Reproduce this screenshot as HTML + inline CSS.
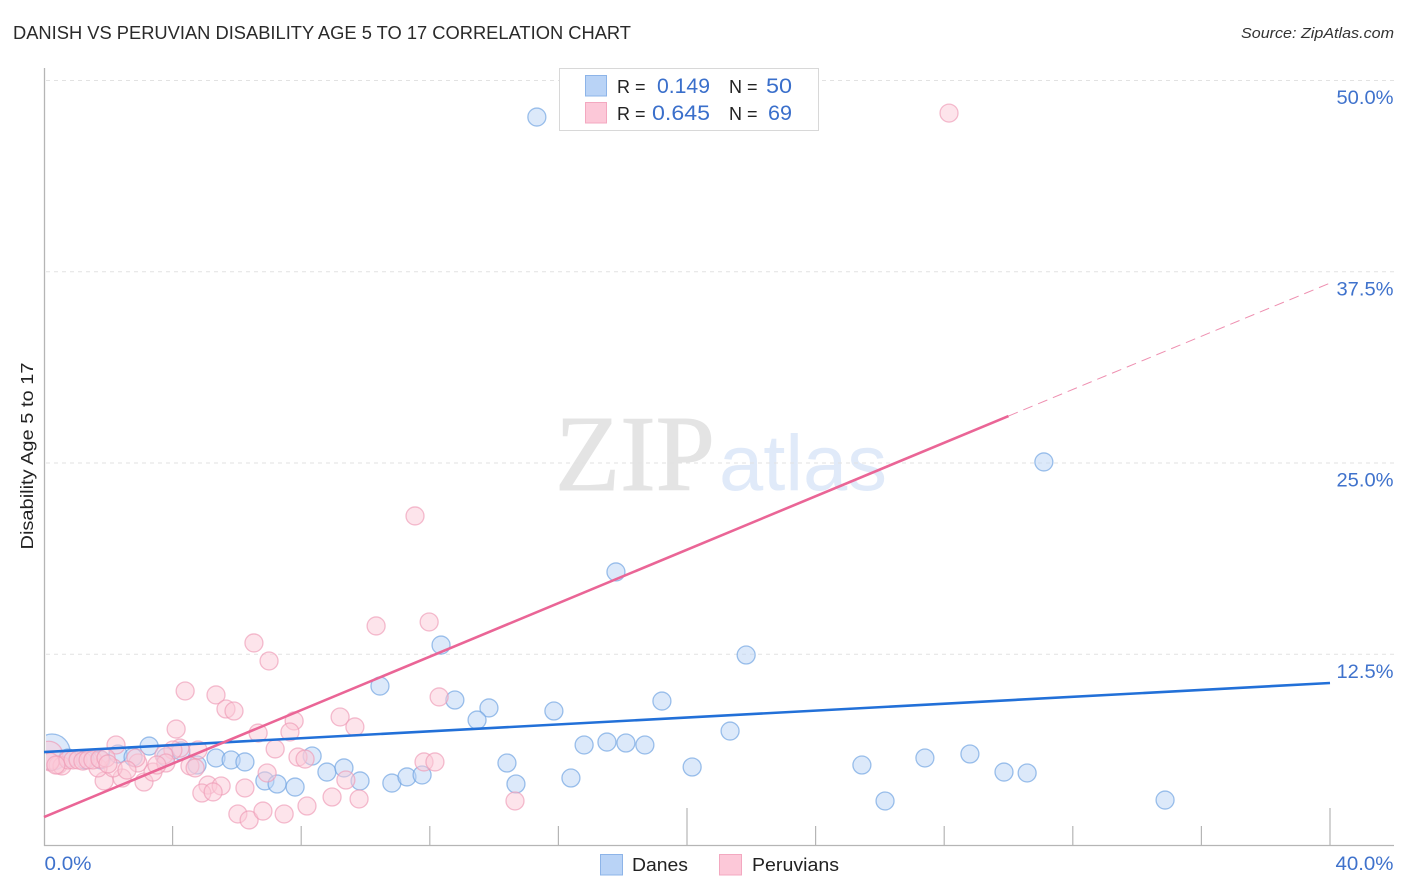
<!DOCTYPE html>
<html lang="en">
<head>
<meta charset="utf-8">
<title>Danish vs Peruvian Disability Age 5 to 17 Correlation Chart</title>
<style>
html,body{margin:0;padding:0;background:#fff;width:1406px;height:892px;overflow:hidden}
svg{display:block}
text{font-family:"Liberation Sans",sans-serif}
</style>
</head>
<body>
<svg id="chart" width="1406" height="892" viewBox="0 0 1406 892">
  <defs>
    <clipPath id="plot-clip"><rect x="46" y="60" width="1360" height="786"/></clipPath>
  </defs>
  <text x="13" y="39" font-size="18.5" fill="#2a2a2a" textLength="618" lengthAdjust="spacingAndGlyphs">DANISH VS PERUVIAN DISABILITY AGE 5 TO 17 CORRELATION CHART</text>
  <text x="1394" y="38" font-size="15" font-style="italic" fill="#333" text-anchor="end" textLength="153" lengthAdjust="spacingAndGlyphs">Source: ZipAtlas.com</text>
  <text x="555" y="490" font-size="108" fill="#e4e4e4" stroke="#e4e4e4" stroke-width="1" style="font-family:'Liberation Serif',serif" textLength="160" lengthAdjust="spacingAndGlyphs">ZIP</text>
  <text x="719" y="490" font-size="79" fill="#e0eaf9" textLength="168" lengthAdjust="spacingAndGlyphs">atlas</text>
  <g id="grid"></g>
  <g id="axes"></g>
  <g id="points-danes" clip-path="url(#plot-clip)"></g>
  <g id="points-peruvians" clip-path="url(#plot-clip)"></g>
  <g id="trends"></g>
  <text transform="translate(33,456) rotate(-90)" font-size="17.5" fill="#222" text-anchor="middle" textLength="187" lengthAdjust="spacingAndGlyphs">Disability Age 5 to 17</text>

  <g>
    <rect x="559.5" y="68.5" width="259" height="62" fill="#fff" stroke="#d8d8d8"/>
    <rect x="585.5" y="75.5" width="21" height="20.5" fill="#b9d3f6" stroke="#8db4e8"/>
    <rect x="585.5" y="102.5" width="21" height="20.5" fill="#fcc8d8" stroke="#f3a8c0"/>
    <text x="617" y="93" font-size="18" fill="#222">R =</text>
    <text x="710" y="93" font-size="21" fill="#3a6fcb" text-anchor="end" textLength="53" lengthAdjust="spacingAndGlyphs">0.149</text>
    <text x="729" y="93" font-size="18" fill="#222">N =</text>
    <text x="792" y="93" font-size="21" fill="#3a6fcb" text-anchor="end" textLength="26" lengthAdjust="spacingAndGlyphs">50</text>
    <text x="617" y="120" font-size="18" fill="#222">R =</text>
    <text x="710" y="120" font-size="21" fill="#3a6fcb" text-anchor="end" textLength="58" lengthAdjust="spacingAndGlyphs">0.645</text>
    <text x="729" y="120" font-size="18" fill="#222">N =</text>
    <text x="792" y="120" font-size="21" fill="#3a6fcb" text-anchor="end" textLength="24" lengthAdjust="spacingAndGlyphs">69</text>
  </g>

  <g>
    <g>
      <rect x="600.5" y="854.5" width="22" height="20.5" fill="#b9d3f6" stroke="#8db4e8"/>
      <text x="632" y="871" font-size="18.5" fill="#222" textLength="56" lengthAdjust="spacingAndGlyphs">Danes</text>
    </g>
    <g>
      <rect x="719.5" y="854.5" width="22" height="20.5" fill="#fcc8d8" stroke="#f3a8c0"/>
      <text x="752" y="871" font-size="18.5" fill="#222" textLength="87" lengthAdjust="spacingAndGlyphs">Peruvians</text>
    </g>
  </g>
</svg>
<script>
const yTickValues = [12.5, 25, 37.5, 50];
const yTickLabels = ["12.5%", "25.0%", "37.5%", "50.0%"];
const xTickValues = [0, 4, 8, 12, 16, 20, 24, 28, 32, 36, 40];
const xMajorTicks = [20, 40];
const xEndValues = [0, 40];
const xEndLabels = ["0.0%", "40.0%"];

const danesX = [15.33,31.10,17.79,12.35,21.84,10.45,12.78,19.22,13.84,13.47,15.86,21.34,16.80,17.51,18.10,18.69,3.27,2.30,2.77,1.77,3.79,4.26,4.76,5.35,5.82,6.25,8.34,8.80,9.33,9.83,10.82,11.29,11.76,14.40,14.68,16.39,20.16,25.44,27.40,28.80,29.86,30.58,26.16,34.87,6.87,7.25,7.81,0.75,1.28];
const danesY = [47.61,25.07,17.88,13.10,12.45,10.42,9.51,9.44,8.99,8.20,8.79,7.48,6.57,6.76,6.70,6.57,6.50,5.98,5.78,5.59,5.78,6.18,5.26,5.72,5.59,5.46,5.85,4.80,5.07,4.22,4.08,4.48,4.61,5.39,4.02,4.41,5.13,5.26,5.72,5.98,4.80,4.74,2.91,2.97,4.22,4.02,3.82,5.72,5.59];
const danesClusterX = [0.25];
const danesClusterY = [6.11];

const peruviansX = [28.15,11.54,11.98,10.33,6.53,7.00,4.39,5.35,5.66,5.91,4.11,6.66,7.78,7.65,9.21,9.67,2.24,7.19,7.90,8.12,11.82,12.16,12.29,6.94,9.39,5.10,5.51,4.91,5.26,6.25,8.96,9.80,8.18,6.03,6.38,6.81,7.47,14.65,1.87,2.43,3.11,3.39,4.23,4.01,3.73,3.79,3.51,4.79,4.54,4.70,2.92,2.15,1.68,2.86,2.58,0.44,0.56,0.19,0.75,0.90,1.06,1.21,1.37,1.52,1.74,1.93,0.37,1.99];
const peruviansY = [47.87,21.54,14.61,14.35,13.24,12.06,10.10,9.84,8.92,8.79,7.61,7.35,8.14,7.42,8.40,7.75,6.57,6.31,5.78,5.65,5.46,5.46,9.71,4.74,4.28,3.95,3.89,3.43,3.50,3.76,3.17,3.04,2.58,2.06,1.67,2.25,2.06,2.91,4.22,4.41,4.15,4.80,6.37,6.24,5.92,5.39,5.26,6.24,5.20,5.07,5.39,5.07,5.07,5.72,4.93,5.26,5.20,5.46,5.59,5.59,5.59,5.52,5.59,5.59,5.65,5.72,5.26,5.33];
const peruviansClusterX = [0.15];
const peruviansClusterY = [5.9];

const danesTrendX = [0, 40];
const danesTrendY = [6.11, 10.62];
const peruviansTrendX = [0, 30];
const peruviansTrendY = [1.86, 28.07];
const peruviansForecastX = [30, 40];
const peruviansForecastY = [28.07, 36.76];

const NS = "http://www.w3.org/2000/svg";
const xScale = v => 44 + v * 32.15;
const yScale = v => 845.5 - v * 15.3;
function mk(parent, tag, attrs, text) {
  const el = document.createElementNS(NS, tag);
  for (const k in attrs) el.setAttribute(k, attrs[k]);
  if (text !== undefined) el.textContent = text;
  parent.appendChild(el);
  return el;
}

const grid = document.getElementById("grid");
const axes = document.getElementById("axes");
yTickValues.forEach((v, i) => {
  const line = mk(grid, "line", {x1: 46, x2: 1394, y1: yScale(v), y2: yScale(v), stroke: "#e2e2e2", "stroke-width": 1, "stroke-dasharray": "4 4"});
  
  
  const label = mk(axes, "text", {x: 1393.5, y: yScale(v) + 23.5, "font-size": 19, fill: "#3f72cc", "text-anchor": "end", textLength: 57, lengthAdjust: "spacingAndGlyphs"}, yTickLabels[i]);
  
  
});

const yAxis = mk(axes, "line", {x1: 44.5, x2: 44.5, y1: 68, y2: 846, stroke: "#b5b5b5", "stroke-width": 1.3});


const xAxis = mk(axes, "line", {x1: 44, x2: 1394, y1: 845.5, y2: 845.5, stroke: "#b5b5b5", "stroke-width": 1.3});


xTickValues.forEach(v => {
  if (v === 0) return;
  const top = xMajorTicks.includes(v) ? 808 : 826;
  const tick = mk(axes, "line", {x1: xScale(v), x2: xScale(v), y1: top, y2: 845, stroke: "#b5b5b5", "stroke-width": 1.2});
  
  
});
xEndValues.forEach((v, i) => {
  const label = mk(axes, "text", {x: i === 0 ? 44.5 : 1393.5, y: 870, "font-size": 19.5, fill: "#3f72cc", "text-anchor": i === 0 ? "start" : "end", textLength: i === 0 ? 47 : 58, lengthAdjust: "spacingAndGlyphs"}, xEndLabels[i]);
  
  
});

function drawPoints(group, xs, ys, radius, fill, stroke, name) {
  xs.forEach((x, i) => {
    const c = mk(group, "circle", {cx: xScale(x), cy: yScale(ys[i]), r: radius, fill: fill, "fill-opacity": 0.5, stroke: stroke, "stroke-opacity": 0.65, "stroke-width": 1.3});
    
    
  });
}
const gD = document.getElementById("points-danes");
const gP = document.getElementById("points-peruvians");
drawPoints(gD, danesClusterX, danesClusterY, 18, "#b9d3f6", "#6a9fe0", "dane-point-cluster");
drawPoints(gD, danesX, danesY, 9, "#b9d3f6", "#6a9fe0", "dane-point");
drawPoints(gP, peruviansClusterX, peruviansClusterY, 14, "#fbc9d8", "#ee9ab5", "peruvian-point-cluster");
drawPoints(gP, peruviansX, peruviansY, 9, "#fbc9d8", "#ee9ab5", "peruvian-point");

const gT = document.getElementById("trends");
const danesLine = mk(gT, "line", {x1: xScale(danesTrendX[0]), y1: yScale(danesTrendY[0]), x2: xScale(danesTrendX[1]), y2: yScale(danesTrendY[1]), stroke: "#2270d8", "stroke-width": 2.6});


const peruLine = mk(gT, "line", {x1: xScale(peruviansTrendX[0]), y1: yScale(peruviansTrendY[0]), x2: xScale(peruviansTrendX[1]), y2: yScale(peruviansTrendY[1]), stroke: "#ea6596", "stroke-width": 2.6});


const peruDash = mk(gT, "line", {x1: xScale(peruviansForecastX[0]), y1: yScale(peruviansForecastY[0]), x2: xScale(peruviansForecastX[1]), y2: yScale(peruviansForecastY[1]), stroke: "#ee8fb0", "stroke-width": 1, "stroke-dasharray": "10 6"});


</script>
</body>
</html>
